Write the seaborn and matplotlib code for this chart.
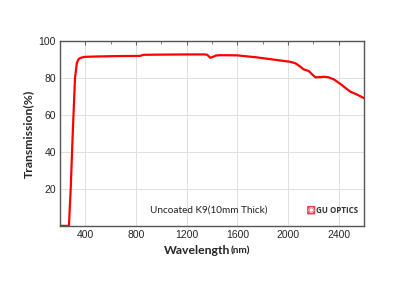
import matplotlib
matplotlib.use("Agg")
import matplotlib.pyplot as plt
import seaborn as sns
import pandas as pd
from matplotlib.ticker import MultipleLocator

wavelength = [200, 270, 284, 300, 318, 332, 345, 358, 375, 398, 500, 650, 832, 859,
              1000, 1201, 1340, 1362, 1386, 1407, 1430, 1465, 1597, 1755, 1886, 2018,
              2058, 2090, 2123, 2163, 2190, 2216, 2250, 2282, 2320, 2361, 2413, 2450,
              2492, 2540, 2603]
transmission = [0, 0, 20, 50, 80, 88, 90.2, 90.8, 91.2, 91.5, 91.7, 91.9, 92.0, 92.6,
                92.7, 92.8, 92.8, 92.6, 91.0, 91.5, 92.2, 92.4, 92.3, 91.2, 90.0, 88.8,
                88.0, 86.5, 84.7, 83.8, 82.0, 80.4, 80.5, 80.7, 80.4, 79.3, 76.8, 74.8,
                72.6, 71.2, 69.0]
x_ticks = [400, 800, 1200, 1600, 2000, 2400]
y_ticks = [20, 40, 60, 80, 100]

df = pd.DataFrame({"Wavelength": wavelength, "Transmission": transmission})

sns.set_style("white")
plt.rcParams['font.family'] = ['Liberation Sans', 'DejaVu Sans']

fig = plt.figure(figsize=(4.2, 2.98), dpi=100)
ax = fig.add_axes([0.143, 0.242, 0.724, 0.620])

sns.lineplot(data=df, x="Wavelength", y="Transmission", color="#ff0000", lw=1.6, ax=ax)

ax.set_xlim(200, 2600)
ax.set_ylim(0, 100)
ax.set_xticks(x_ticks)
ax.set_yticks(y_ticks)
ax.xaxis.set_minor_locator(MultipleLocator(200))
ax.grid(True, which="major", color="#e0e0e0", lw=0.7)
ax.tick_params(axis="both", which="major", labelsize=7.5, direction="in", length=3,
               color="#666666", pad=3, top=True, right=False)
ax.tick_params(axis="x", which="minor", direction="in", length=2, color="#666666", top=True)
for s in ax.spines.values():
    s.set_color("#555555")
    s.set_linewidth(1.0)

ax.set_xlabel("")
ax.set_ylabel("Transmission(%)", fontsize=8.8, fontweight="bold", family="Lato", labelpad=3)
fig.text(0.548, 0.161, "Wavelength", fontsize=8.8, fontweight="bold", family="Lato",
         ha="right", va="center")
fig.text(0.549, 0.157, "(nm)", fontsize=7.2, fontweight="bold", family="Lato",
         ha="left", va="center")

ax.text(0.49, 0.085, "Uncoated K9(10mm Thick)", transform=ax.transAxes, fontsize=7.2,
        family="Lato", ha="center", va="center", color="#222222")
ax.text(0.826, 0.085, "\u25c9", transform=ax.transAxes, fontsize=5.5, color="white",
        ha="center", va="center",
        bbox=dict(boxstyle="round,pad=0.1", fc="#e8404a", ec="none"))
ax.text(0.843, 0.085, "GU OPTICS", transform=ax.transAxes, fontsize=5.8, fontweight="bold",
        family="Open Sans", ha="left", va="center", color="#333333")

fig.savefig("out.png", dpi=100)
